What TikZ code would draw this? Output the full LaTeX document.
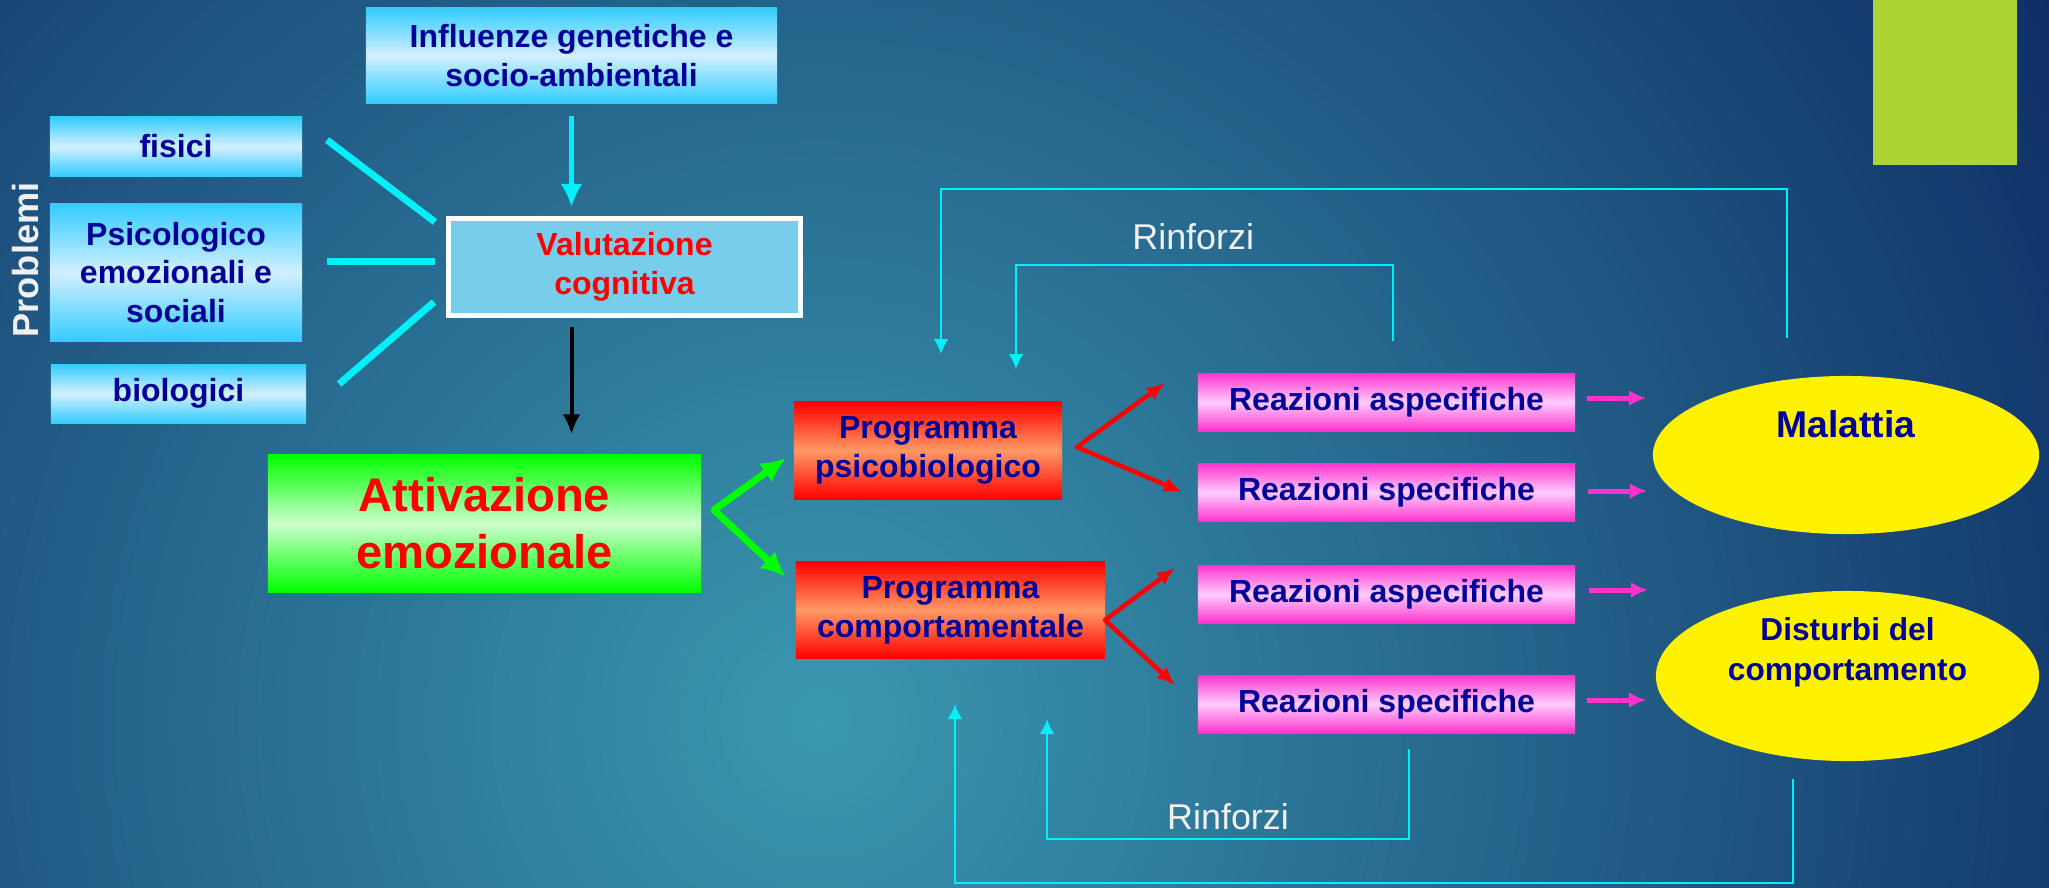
\documentclass[tikz,border=0pt]{standalone}
\usepackage{fontspec}
\setmainfont{Liberation Sans}
\usetikzlibrary{positioning, calc, shapes.geometric, arrows.meta}

\definecolor{bgnavy}{RGB}{14,44,100}
\definecolor{bgteal}{RGB}{58,152,176}
\definecolor{txtblue}{RGB}{0,0,153}
\definecolor{boxcyan}{RGB}{51,204,255}
\definecolor{boxcyanlight}{RGB}{210,240,255}
\definecolor{valfill}{RGB}{120,205,235}
\definecolor{boxgreen}{RGB}{0,255,0}
\definecolor{boxgreenlight}{RGB}{204,255,204}
\definecolor{boxred}{RGB}{255,0,0}
\definecolor{boxorange}{RGB}{255,153,102}
\definecolor{boxpink}{RGB}{255,51,204}
\definecolor{boxpinklight}{RGB}{255,204,255}
\definecolor{decolime}{RGB}{173,212,51}
\definecolor{linecyan}{RGB}{0,240,250}
\definecolor{labelwhite}{RGB}{240,240,240}

\newcommand{\boxfont}{\bfseries\fontsize{9.1}{11}\selectfont}
\newcommand{\bigboxfont}{\bfseries\fontsize{13.4}{16.2}\selectfont}
\newcommand{\ellfont}{\bfseries\fontsize{9}{11.4}\selectfont}

\begin{document}
\begin{tikzpicture}[x=0.01cm, y=-0.01cm,
	every node/.style={inner sep=0pt, align=center},
	cyanbox/.style={top color=boxcyan, bottom color=boxcyan, middle color=boxcyanlight, text=txtblue, font=\boxfont},
	progbox/.style={top color=boxred, bottom color=boxred, middle color=boxorange, text=txtblue, font=\boxfont},
	reabox/.style={top color=boxpink, bottom color=boxpink, middle color=boxpinklight, text=txtblue, font=\boxfont, minimum width=3.77cm, minimum height=0.58cm},
	endellipse/.style={ellipse, fill=yellow},
	thickcyan/.style={draw=linecyan, line width=0.07cm},
	cyanarrow/.style={draw=linecyan, line width=0.045cm, -{Latex[length=0.23cm, width=0.22cm]}},
	blackarrow/.style={draw=black, line width=0.04cm, -{Latex[length=0.2cm, width=0.18cm]}},
	greenarrow/.style={draw=boxgreen, line width=0.07cm, line join=round, {Latex[length=0.25cm, width=0.23cm]}-{Latex[length=0.25cm, width=0.23cm]}},
	redarrow/.style={draw=boxred, line width=0.045cm, line join=round, {Latex[length=0.18cm, width=0.15cm]}-{Latex[length=0.18cm, width=0.15cm]}},
	pinkarrow/.style={draw=boxpink, line width=0.05cm, -{Latex[length=0.17cm, width=0.16cm]}},
	fbline/.style={draw=linecyan, line width=0.025cm, -{Latex[length=0.15cm, width=0.15cm]}},
	rinforzi/.style={text=labelwhite, font=\fontsize{10.2}{12}\selectfont}]

	\useasboundingbox (0,0) rectangle (2049,887);
	\begin{scope}
		\clip (0,0) rectangle (2049,887);
		\fill[bgnavy] (0,0) rectangle (2049,887);
		\shade[inner color=bgteal, outer color=bgnavy] (820,720) circle (14.5cm);
	\end{scope}
	\fill[decolime] (1873,0) rectangle (2017,165);

	\node (0) at (571.5,55.5) [cyanbox, minimum width=4.11cm, minimum height=0.95cm] {Influenze genetiche e\\socio-ambientali};
	\node (1) at (176,146.5) [cyanbox, minimum width=2.52cm, minimum height=0.59cm] {fisici};
	\node (2) at (176,272.5) [cyanbox, minimum width=2.52cm, minimum height=1.37cm] {Psicologico\\emozionali e\\sociali};
	\node (3) at (178.5,393.5) [cyanbox, minimum width=2.55cm, minimum height=0.59cm] {biologici};
	\node (14) at (26,260) [rotate=90, text=labelwhite, font=\bfseries\fontsize{10.3}{12}\selectfont] {Problemi};
	\node (4) at (624.5,267) [fill=valfill, draw=white, line width=0.05cm, minimum width=3.52cm, minimum height=0.97cm, text=red, font=\boxfont] {Valutazione\\cognitiva};
	\node (5) at (484.5,523.5) [top color=boxgreen, bottom color=boxgreen, middle color=boxgreenlight, minimum width=4.33cm, minimum height=1.37cm, text=red, font=\bigboxfont] {Attivazione\\emozionale};
	\node (6) at (928,450.5) [progbox, minimum width=2.68cm, minimum height=0.97cm] {Programma\\psicobiologico};
	\node (7) at (950.5,610) [progbox, minimum width=3.09cm, minimum height=0.96cm] {Programma\\comportamentale};
	\node (8) at (1386.5,402) [reabox] {Reazioni aspecifiche};
	\node (9) at (1386.5,492.5) [reabox] {Reazioni specifiche};
	\node (10) at (1386.5,594) [reabox] {Reazioni aspecifiche};
	\node (11) at (1386.5,704) [reabox] {Reazioni specifiche};
	\node (12) at (1846,455) [endellipse, minimum width=3.86cm, minimum height=1.58cm, label={[text=txtblue, font=\bfseries\fontsize{10.6}{12}\selectfont, yshift=0.31cm]center:Malattia}] {};
	\node (13) at (1847.5,676) [endellipse, minimum width=3.83cm, minimum height=1.70cm, label={[text=txtblue, font=\ellfont, yshift=0.24cm]center:Disturbi del\\comportamento}] {};

	\coordinate (1a) at (327,140);
	\coordinate (1b) at (435,222);
	\coordinate (2a) at (327,261);
	\coordinate (2b) at (435,261);
	\coordinate (3a) at (339,384);
	\coordinate (3b) at (434,302);
	\draw[thickcyan] (1a) -- (1b);
	\draw[thickcyan] (2a) -- (2b);
	\draw[thickcyan] (3a) -- (3b);

	\draw[cyanarrow, shorten <=0.12cm, shorten >=0.09cm] (0.south) -- (0.south |- 4.north);
	\draw[blackarrow, shorten <=0.09cm, shorten >=0.2cm] (0.south |- 4.south) -- (0.south |- 5.north);

	\coordinate (g) at (714,510);
	\coordinate (g6) at (786,458);
	\coordinate (g7) at (786,577);
	\draw[greenarrow] (g6) -- (g) -- (g7);

	\coordinate (r6) at (1077,447);
	\coordinate (r8) at (1165,383);
	\coordinate (r9) at (1182,492);
	\draw[redarrow] (r8) -- (r6) -- (r9);
	\coordinate (r7) at (1105,620);
	\coordinate (r10) at (1175,568);
	\coordinate (r11) at (1175,685);
	\draw[redarrow] (r10) -- (r7) -- (r11);

	\coordinate (p8) at (1646,398);
	\coordinate (p9) at (1647,491);
	\coordinate (p10) at (1648,590);
	\coordinate (p11) at (1646,700);
	\draw[pinkarrow, shorten <=0.11cm] (8.east |- p8) -- (p8);
	\draw[pinkarrow, shorten <=0.12cm] (9.east |- p9) -- (p9);
	\draw[pinkarrow, shorten <=0.13cm] (10.east |- p10) -- (p10);
	\draw[pinkarrow, shorten <=0.11cm] (11.east |- p11) -- (p11);

	\coordinate (o1) at (1787,338);
	\coordinate (o2) at (941,354);
	\coordinate (i1) at (1393,341);
	\coordinate (i2) at (1016,369);
	\coordinate (j1) at (1409,749);
	\coordinate (j2) at (1047,719);
	\coordinate (k1) at (1793,779);
	\coordinate (k2) at (955,704);
	\draw[fbline] (o1) -- ++(0,-149) -| (o2);
	\draw[fbline] (i1) -- ++(0,-76) -| node[rinforzi, pos=0.265, yshift=0.28cm] {Rinforzi} (i2);
	\draw[fbline] (j1) -- ++(0,90) -| node[rinforzi, pos=0.25, yshift=0.22cm] {Rinforzi} (j2);
	\draw[fbline] (k1) -- ++(0,104) -| (k2);
\end{tikzpicture}
\end{document}
